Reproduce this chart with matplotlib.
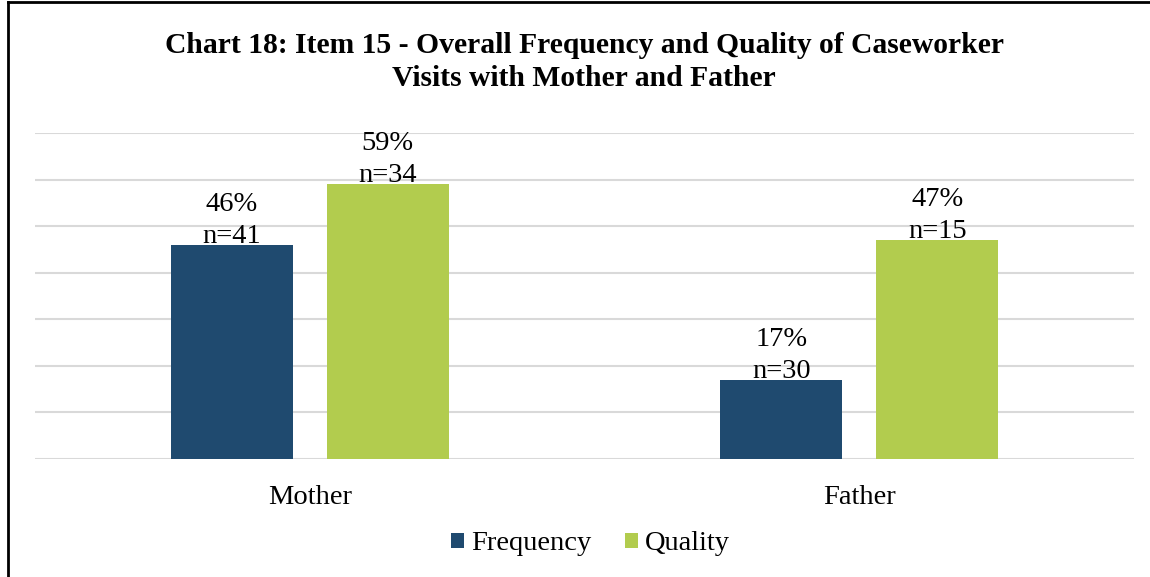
import matplotlib.pyplot as plt
import numpy as np

categories = ['Mother', 'Father']
series_names = ['Frequency', 'Quality']
frequency_pct = [46, 17]
quality_pct = [59, 47]
frequency_n = [41, 30]
quality_n = [34, 15]

colors = ['#1F4A6F', '#B2CC4E']
grid_color = '#D9D9D9'

plt.rcParams['font.family'] = ['Liberation Serif', 'DejaVu Serif']

fig = plt.figure(figsize=(11.5, 5.77), dpi=100)
ax = fig.add_axes([35 / 1150, 1 - 459 / 577, 1099 / 1150, 326 / 577])

x = np.arange(len(categories))
width = 0.222
offset = 0.142

values = [frequency_pct, quality_pct]
counts = [frequency_n, quality_n]
for i, name in enumerate(series_names):
    pos = x + (i * 2 - 1) * offset
    bars = ax.bar(pos, values[i], width, color=colors[i], label=name, zorder=3)
    for b, v, n in zip(bars, values[i], counts[i]):
        ax.annotate(f'{v}%\nn={n}', (b.get_x() + b.get_width() / 2, v),
                    xytext=(0, -3), textcoords='offset points',
                    ha='center', va='bottom', fontsize=20.5,
                    linespacing=1.38, zorder=4)

ax.set_xlim(-0.5, 1.5)
ax.set_ylim(0, 70)
ax.set_yticks(np.arange(0, 71, 10))
ax.yaxis.grid(True, color=grid_color, linewidth=1.5, zorder=0)
ax.tick_params(axis='y', left=False, labelleft=False)
ax.tick_params(axis='x', bottom=False, labelsize=20.5, pad=15)
ax.set_xticks(x)
ax.set_xticklabels(categories)
for s in ax.spines.values():
    s.set_visible(False)

fig.text(0.508, 1 - 62 / 577, 'Chart 18: Item 15 - Overall Frequency and Quality of Caseworker\nVisits with Mother and Father',
         ha='center', va='center', fontsize=21.3, fontweight='bold', linespacing=1.3)

fig.legend(loc='center', bbox_to_anchor=(0.5135, 1 - 544 / 577), ncol=2, frameon=False,
           fontsize=20.5, handlelength=0.45, handleheight=0.45, handletextpad=0.25,
           columnspacing=1.17)

# outer frame (left and top edges visible in the reference)
fig.add_artist(plt.Line2D([8 / 1150, 8 / 1150], [0, 1 - 2 / 577], color='black', linewidth=2,
                          transform=fig.transFigure))
fig.add_artist(plt.Line2D([8 / 1150, 1], [1 - 2 / 577, 1 - 2 / 577], color='black', linewidth=2,
                          transform=fig.transFigure))

fig.savefig('out.png', dpi=100)
